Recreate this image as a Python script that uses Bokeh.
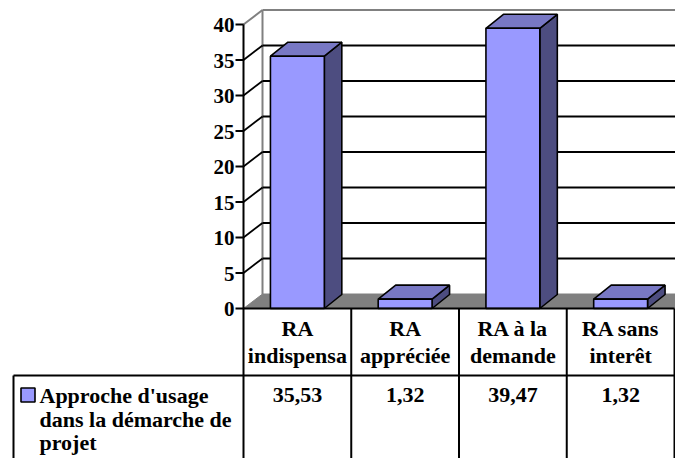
from bokeh.plotting import figure
from bokeh.models import Range1d
from bokeh.core.properties import value
from bokeh.embed import file_html
from bokeh.resources import INLINE

# ---- data ----
categories = ["RA\nindispensa", "RA\nappréciée", "RA à la\ndemande", "RA sans\ninterêt"]
values = [35.53, 1.32, 39.47, 1.32]
value_labels = ["35,53", "1,32", "39,47", "1,32"]
series_name = "Approche d'usage\ndans la démarche de\nprojet"
y_ticks = [0, 5, 10, 15, 20, 25, 30, 35, 40]

# ---- layout constants (pixels) ----
W, H = 675, 458
FRONT_LEFT = 243      # front plane left edge, px from figure left
CAT_W = 107.75        # px per category
Y0 = 308              # px of value 0 from figure top
PPU = 7.1             # px per value unit
FS = 22               # table font size, px
BASE_SHIFT = 7.8      # px between text anchor (middle) and baseline

def dx(px):
    return px / CAT_W

def dy(px):
    return px / PPU

def xr(ref_px):
    return (ref_px - FRONT_LEFT) / CAT_W

def yr(ref_py):
    return (Y0 - ref_py) / PPU

def ybase(ref_baseline):
    return yr(ref_baseline - BASE_SHIFT)

n = len(categories)
ymax = y_ticks[-1]
x_start, x_end = -FRONT_LEFT / CAT_W, (W - FRONT_LEFT) / CAT_W
y_start, y_end = -(H - Y0) / PPU, Y0 / PPU

p = figure(width=W, height=H, x_range=Range1d(x_start, x_end), y_range=Range1d(y_start, y_end),
           output_backend="svg", toolbar_location=None, min_border=0,
           x_axis_location=None, y_axis_location=None, outline_line_color=None)
p.grid.grid_line_color = None

GRAY = "#808080"
FRONT = "#9999FF"
TOP = "#7878C4"
SIDE = "#4D4D80"
FONT = value("Liberation Serif")

WDX, WDY = dx(19), dy(14.5)
x_far = n + WDX + 1

# back wall edges and gridlines
p.segment(x0=[WDX], y0=[WDY], x1=[WDX], y1=[ymax + WDY], line_color=GRAY, line_width=2)
p.segment(x0=[WDX], y0=[ymax + WDY], x1=[x_far], y1=[ymax + WDY], line_color=GRAY, line_width=2)
p.segment(x0=[0], y0=[ymax], x1=[WDX], y1=[ymax + WDY], line_color=GRAY, line_width=2)
inner = y_ticks[1:-1]
p.segment(x0=[WDX] * len(inner), y0=[t + WDY for t in inner], x1=[x_far] * len(inner),
          y1=[t + WDY for t in inner], line_color="black", line_width=1.8)
p.segment(x0=[0] * len(inner), y0=inner, x1=[WDX] * len(inner), y1=[t + WDY for t in inner],
          line_color="black", line_width=1.8)

# floor
p.patch(x=[0, n, n + WDX, WDX], y=[0, 0, WDY, WDY], fill_color=GRAY, line_color=GRAY, line_width=1)

# bars
BDX, BDY = dx(17.5), dy(14)
half = 0.25
centers = [i + 0.5 for i in range(n)]
side_xs = [[c + half, c + half, c + half + BDX, c + half + BDX] for c in centers]
side_ys = [[0, v, v + BDY, BDY] for v in values]
top_xs = [[c - half, c + half, c + half + BDX, c - half + BDX] for c in centers]
top_ys = [[v, v, v + BDY, v + BDY] for v in values]
p.patches(xs=side_xs, ys=side_ys, fill_color=SIDE, line_color="black", line_width=1.6)
p.patches(xs=top_xs, ys=top_ys, fill_color=TOP, line_color="black", line_width=1.6)
p.quad(left=[c - half for c in centers], right=[c + half for c in centers], bottom=[0] * n, top=values,
       fill_color=FRONT, line_color="black", line_width=1.6)

# table lines
row_bottom = yr(375)
x_leg = xr(13)
p.segment(x0=[0], y0=[ymax], x1=[0], y1=[y_start], line_color="black", line_width=2)
p.segment(x0=[0], y0=[0], x1=[n], y1=[0], line_color="black", line_width=2)
p.segment(x0=list(range(1, n + 1)), y0=[0] * n, x1=list(range(1, n + 1)), y1=[y_start] * n,
          line_color="black", line_width=2)
p.segment(x0=[x_leg], y0=[row_bottom], x1=[n], y1=[row_bottom], line_color="black", line_width=2)
p.segment(x0=[x_leg], y0=[row_bottom], x1=[x_leg], y1=[y_start], line_color="black", line_width=2)

# y axis ticks and labels
nt = len(y_ticks)
p.segment(x0=[-dx(8)] * nt, y0=y_ticks, x1=[0] * nt, y1=y_ticks, line_color="black", line_width=2)
p.text(x=[-dx(9)] * nt, y=[t - dy(0.5) for t in y_ticks], text=[str(t) for t in y_ticks],
       text_font=FONT, text_font_style="bold", text_font_size="21px", text_align="right",
       text_baseline="middle")

txt = dict(text_font=FONT, text_font_style="bold", text_font_size=f"{FS}px",
           text_baseline="middle")

# category labels
line1 = [c.split("\n")[0] for c in categories]
line2 = [c.split("\n")[1] for c in categories]
p.text(x=centers, y=[ybase(336)] * n, text=line1, text_align="center", **txt)
p.text(x=centers, y=[ybase(363)] * n, text=line2, text_align="center", **txt)

# values row
p.text(x=centers, y=[ybase(402)] * n, text=value_labels, text_align="center", **txt)

# legend key and series name
p.rect(x=[xr(27.5)], y=[yr(394.5)], width=14, height=14, width_units="screen", height_units="screen",
       fill_color=FRONT, line_color="black", line_width=1.6)
legend_lines = series_name.split("\n")
p.text(x=[xr(39)] * len(legend_lines), y=[ybase(403), ybase(426.5), ybase(450)], text=legend_lines,
       text_align="left", **txt)

open("out.html", "w").write(file_html(p, INLINE))
